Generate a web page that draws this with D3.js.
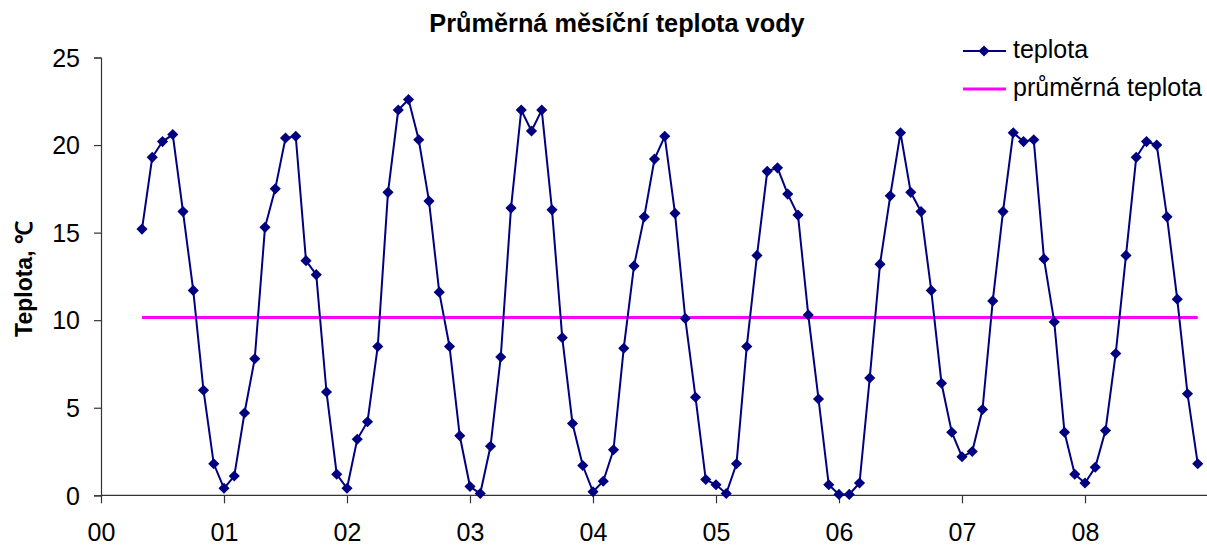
<!DOCTYPE html>
<html>
<head>
<meta charset="utf-8">
<script src="https://cdn.jsdelivr.net/npm/d3@7"></script>
<style>
  body { margin: 0; background: #fff; }
  text { font-family: "Liberation Sans", Arial, sans-serif; }
</style>
</head>
<body>
<div id="chart"></div>
<script>
// monthly water temperature, May 2000 .. Dec 2008
const startMonth = 4  // months after Jan 2000
const teplota = [
  15.2, 19.3, 20.2, 20.6, 16.2, 11.7, 6.0, 1.8,
  0.4, 1.1, 4.7, 7.8, 15.3, 17.5, 20.4, 20.5, 13.4, 12.6, 5.9, 1.2,
  0.4, 3.2, 4.2, 8.5, 17.3, 22.0, 22.6, 20.3, 16.8, 11.6, 8.5, 3.4,
  0.5, 0.1, 2.8, 7.9, 16.4, 22.0, 20.8, 22.0, 16.3, 9.0, 4.1, 1.7,
  0.2, 0.8, 2.6, 8.4, 13.1, 15.9, 19.2, 20.5, 16.1, 10.1, 5.6, 0.9,
  0.6, 0.1, 1.8, 8.5, 13.7, 18.5, 18.7, 17.2, 16.0, 10.3, 5.5, 0.6,
  0.05, 0.05, 0.7, 6.7, 13.2, 17.1, 20.7, 17.3, 16.2, 11.7, 6.4, 3.6,
  2.2, 2.5, 4.9, 11.1, 16.2, 20.7, 20.2, 20.3, 13.5, 9.9, 3.6, 1.2,
  0.7, 1.6, 3.7, 8.1, 13.7, 19.3, 20.2, 20.0, 15.9, 11.2, 5.8, 1.8
]
const prumer = 10.15
const yearTicks = [0, 1, 2, 3, 4, 5, 6, 7, 8]
const tempTicks = [0, 5, 10, 15, 20, 25]
const legendNames = ['teplota', 'průměrná teplota']

const W = 1207, H = 547
const navy = '#000080', magenta = '#ff00ff'

const svg = d3.select('#chart').append('svg')
  .attr('width', W).attr('height', H)

// x in months, 9 years wide (09 falls at the window edge)
const x = d3.scaleLinear().domain([0, 108]).range([101, 1208])
const y = d3.scaleLinear().domain([0, 25]).range([495.3, 57.5])

const data = teplota.map((v, i) => ({ m: startMonth + i, v: v }))

// axes
const yAxis = svg.append('g')
  .attr('transform', 'translate(101,0)')
  .call(d3.axisLeft(y).tickValues(tempTicks).tickSize(7).tickPadding(14))
const xAxis = svg.append('g')
  .attr('transform', 'translate(0,495.3)')
  .call(d3.axisBottom(x).tickValues(yearTicks.map(t => t * 12))
    .tickFormat(d => d3.format('02d')(d / 12)).tickSize(8).tickPadding(20))

svg.selectAll('.domain, .tick line').attr('stroke', '#333').attr('stroke-width', 1.2)
svg.selectAll('.tick text').attr('font-size', 25).attr('fill', '#000')
  .style('font-family', '"Liberation Sans", Arial, sans-serif')
yAxis.selectAll('.tick text').attr('dy', '0.35em')
xAxis.select('.domain').attr('d', 'M101,0H1208')

// mean line
svg.append('line')
  .attr('x1', x(data[0].m)).attr('x2', x(data[data.length - 1].m))
  .attr('y1', y(prumer)).attr('y2', y(prumer))
  .attr('stroke', magenta).attr('stroke-width', 3)

// temperature line
const line = d3.line().x(d => x(d.m)).y(d => y(d.v))
svg.append('path').datum(data)
  .attr('d', line).attr('fill', 'none')
  .attr('stroke', navy).attr('stroke-width', 2)

const diamond = d3.symbol().type(d3.symbolSquare).size(62)
svg.selectAll('.pt').data(data).enter().append('path')
  .attr('class', 'pt')
  .attr('d', diamond)
  .attr('transform', d => `translate(${x(d.m)},${y(d.v)}) rotate(45)`)
  .attr('fill', navy)

// title
svg.append('text')
  .attr('x', 617).attr('y', 32).attr('text-anchor', 'middle')
  .attr('font-size', 25.3).attr('font-weight', 'bold')
  .text('Průměrná měsíční teplota vody')

// y title
svg.append('text')
  .attr('transform', 'translate(32,279) rotate(-90)')
  .attr('text-anchor', 'middle')
  .attr('font-size', 23).attr('font-weight', 'bold')
  .text('Teplota, ℃')

// legend
const lg = svg.append('g')
lg.append('line').attr('x1', 963).attr('x2', 1006).attr('y1', 51).attr('y2', 51)
  .attr('stroke', navy).attr('stroke-width', 2)
lg.append('path').attr('d', diamond).attr('transform', 'translate(984,51) rotate(45)')
  .attr('fill', navy)
lg.append('line').attr('x1', 963).attr('x2', 1006).attr('y1', 89).attr('y2', 89)
  .attr('stroke', magenta).attr('stroke-width', 3)
lg.selectAll('.lt').data(legendNames).enter().append('text')
  .attr('x', 1013).attr('y', (d, i) => 58 + i * 38)
  .attr('font-size', 25)
  .text(d => d)
</script>
</body>
</html>
